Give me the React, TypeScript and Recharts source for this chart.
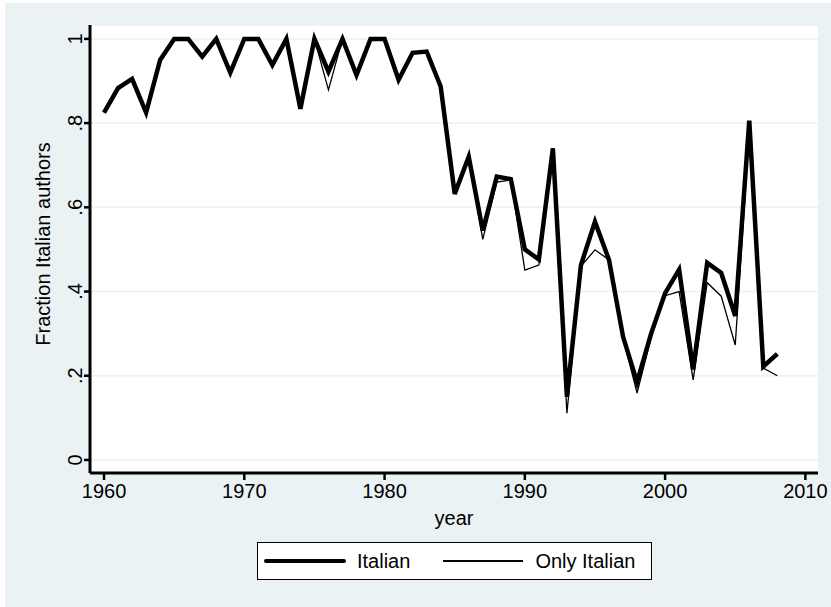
import { LineChart, Line, XAxis, YAxis, CartesianGrid, Legend } from "recharts";

const years = [
  1960, 1961, 1962, 1963, 1964, 1965, 1966, 1967, 1968, 1969,
  1970, 1971, 1972, 1973, 1974, 1975, 1976, 1977, 1978, 1979,
  1980, 1981, 1982, 1983, 1984, 1985, 1986, 1987, 1988, 1989,
  1990, 1991, 1992, 1993, 1994, 1995, 1996, 1997, 1998, 1999,
  2000, 2001, 2002, 2003, 2004, 2005, 2006, 2007, 2008,
];

const italian = [
  0.825, 0.883, 0.905, 0.825, 0.95, 1, 1, 0.958, 1, 0.92,
  1, 1, 0.938, 1, 0.834, 1, 0.922, 1, 0.914, 1,
  1, 0.903, 0.967, 0.97, 0.887, 0.632, 0.72, 0.545, 0.673, 0.667,
  0.5, 0.476, 0.74, 0.15, 0.463, 0.566, 0.475, 0.293, 0.185, 0.3,
  0.396, 0.452, 0.215, 0.468, 0.444, 0.342, 0.806, 0.222, 0.252,
];

const onlyItalian = [
  0.825, 0.883, 0.905, 0.825, 0.95, 1, 1, 0.958, 1, 0.92,
  1, 1, 0.938, 1, 0.834, 1, 0.879, 1, 0.914, 1,
  1, 0.903, 0.967, 0.97, 0.887, 0.632, 0.72, 0.524, 0.66, 0.665,
  0.451, 0.463, 0.74, 0.111, 0.46, 0.499, 0.475, 0.29, 0.159, 0.29,
  0.39, 0.4, 0.19, 0.421, 0.389, 0.273, 0.78, 0.218, 0.2,
];

const xTicks = [1960, 1970, 1980, 1990, 2000, 2010];
const yTicks = [0, 0.2, 0.4, 0.6, 0.8, 1];

const data = years.map((y, i) => ({
  year: y,
  italian: italian[i],
  onlyItalian: onlyItalian[i],
}));

const font = "'Liberation Sans', Arial, sans-serif";
const bg = "#eaf2f3";

const fmtY = (v: number) => (v === 0 ? "0" : v === 1 ? "1" : String(v).replace(/^0/, ""));

function YTick({ x, y, payload }: any) {
  return (
    <text
      x={x}
      y={y}
      transform={`rotate(-90 ${x} ${y})`}
      textAnchor="middle"
      fontSize={20}
      fontFamily={font}
      fill="#000"
    >
      {fmtY(payload.value)}
    </text>
  );
}

function YTitle() {
  return (
    <text
      x={50}
      y={244}
      transform="rotate(-90 50 244)"
      textAnchor="middle"
      fontSize={20}
      fontFamily={font}
      fill="#000"
    >
      Fraction Italian authors
    </text>
  );
}

function LegendBox() {
  return (
    <div
      style={{
        width: 393,
        height: 36,
        background: "#fff",
        border: "1px solid #000",
        display: "flex",
        alignItems: "center",
        fontFamily: font,
        fontSize: 20,
        color: "#000",
      }}
    >
      <div style={{ width: 82, height: 4, background: "#000", marginLeft: 6, borderRadius: 2 }} />
      <span style={{ marginLeft: 11 }}>Italian</span>
      <div style={{ width: 80, height: 1.3, background: "#000", marginLeft: 33 }} />
      <span style={{ marginLeft: 12 }}>Only Italian</span>
    </div>
  );
}

export default function App() {
  return (
    <div style={{ position: "absolute", left: 0, top: 0, width: 831, height: 607, background: "#fff" }}>
      <div style={{ position: "absolute", left: 5, top: 3, width: 826, height: 604, background: bg }} />
      <div style={{ position: "absolute", left: 0, top: 0 }}>
        <LineChart
          width={831}
          height={607}
          data={data}
          margin={{ top: 25, right: 13, bottom: 74, left: 30 }}
        >
          <CartesianGrid horizontal vertical={false} stroke={bg} strokeWidth={1.5} fill="#fff" />
          <XAxis
            dataKey="year"
            type="number"
            domain={[1959, 2010.9]}
            ticks={xTicks}
            interval={0}
            height={60}
            tickSize={7}
            tickMargin={4}
            axisLine={{ stroke: "#000", strokeWidth: 3 }}
            tickLine={{ stroke: "#000", strokeWidth: 2.5 }}
            tick={{ fill: "#000", fontSize: 20, fontFamily: font }}
            label={{ value: "year", position: "insideBottom", offset: 8, fill: "#000", fontSize: 20, fontFamily: font }}
          />
          <YAxis
            type="number"
            domain={[-0.031, 1.033]}
            ticks={yTicks}
            interval={0}
            width={60}
            tickSize={6}
            tickMargin={2}
            axisLine={{ stroke: "#000", strokeWidth: 3 }}
            tickLine={{ stroke: "#000", strokeWidth: 2.5 }}
            tick={<YTick />}
            label={<YTitle />}
          />
          <Legend
            verticalAlign="middle"
            align="center"
            layout="horizontal"
            wrapperStyle={{ left: 257, top: 542, width: 395, height: 38 }}
            content={<LegendBox />}
          />
          <Line
            type="linear"
            dataKey="italian"
            name="Italian"
            stroke="#000"
            strokeWidth={4.5}
            dot={false}
            isAnimationActive={false}
          />
          <Line
            type="linear"
            dataKey="onlyItalian"
            name="Only Italian"
            stroke="#000"
            strokeWidth={1.3}
            dot={false}
            isAnimationActive={false}
          />
        </LineChart>
      </div>
    </div>
  );
}
